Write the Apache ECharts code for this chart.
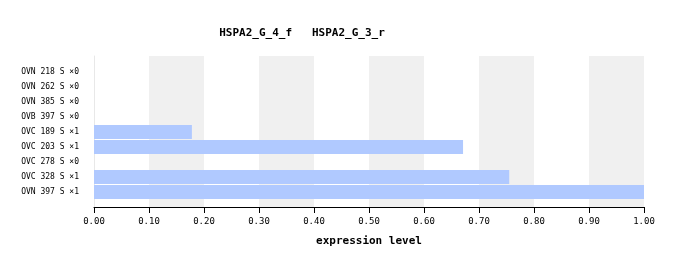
<!DOCTYPE html>
<html><head><meta charset="utf-8">
<script src="https://cdn.jsdelivr.net/npm/echarts@6/dist/echarts.min.js"></script>
<style>html,body{margin:0;padding:0;background:#fff}#c{width:679px;height:266px}</style>
</head><body><div id="c"></div>
<script>
const categories = ["OVN 218 S \u00d70","OVN 262 S \u00d70","OVN 385 S \u00d70","OVB 397 S \u00d70","OVC 189 S \u00d71","OVC 203 S \u00d71","OVC 278 S \u00d70","OVC 328 S \u00d71","OVN 397 S \u00d71"];
const values = [0, 0, 0, 0, 0.178, 0.671, 0, 0.755, 1.0];
const xTicks = [0,0.1,0.2,0.3,0.4,0.5,0.6,0.7,0.8,0.9,1.0];
const titleText = "HSPA2_G_4_f   HSPA2_G_3_r";
const axisName = "expression level";
const mono = "DejaVu Sans Mono";
const chart = echarts.init(document.getElementById('c'), null, {renderer:'canvas'});
chart.setOption({
  animation:false,
  title:{text:titleText,left:297,top:23,textAlign:'center',textStyle:{fontFamily:mono,fontSize:11,fontWeight:'bold',color:'#000'}},
  grid:[
    {left:94,top:56,width:550,height:151,containLabel:false},
    {left:94,top:64.5,width:550,height:135,containLabel:false}
  ],
  xAxis:[
    {gridIndex:0,type:'value',min:0,max:1,interval:0.1,
     axisLine:{show:true,lineStyle:{color:'#000',width:1}},
     axisTick:{show:true,length:6,lineStyle:{color:'#000'}},
     axisLabel:{fontFamily:mono,fontSize:9,color:'#000',margin:10,formatter:v=>v.toFixed(2)},
     splitLine:{show:false},
     splitArea:{show:true,areaStyle:{color:['#ffffff','#f0f0f0']}},
     name:axisName,nameLocation:'middle',nameGap:29,
     nameTextStyle:{fontFamily:mono,fontSize:11,fontWeight:'bold',color:'#000'}},
    {gridIndex:1,type:'value',min:0,max:1,show:false,splitLine:{show:false}}
  ],
  yAxis:[
    {gridIndex:0,type:'value',min:0,max:1,axisLine:{show:true,lineStyle:{color:'#e8e8e8'}},axisTick:{show:false},axisLabel:{show:false},splitLine:{show:false}},
    {gridIndex:1,type:'category',data:categories,inverse:true,
     axisLine:{show:false},axisTick:{show:false},
     axisLabel:{fontFamily:mono,fontSize:8,color:'#000',margin:15}}
  ],
  series:[{type:'bar',xAxisIndex:1,yAxisIndex:1,data:values,barWidth:14,itemStyle:{color:'#b0c9ff'},silent:true}]
});
</script></body></html>
